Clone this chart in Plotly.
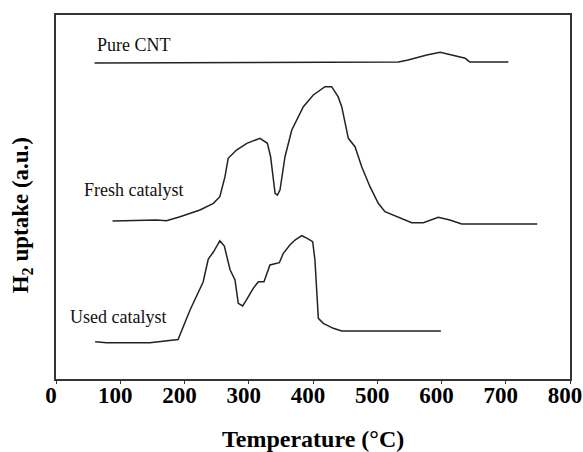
import plotly.graph_objects as go

# Temperature (°C) and H2 uptake (a.u., arbitrary offsets)
pure_x = [60, 484, 533, 548, 577, 598, 618, 637, 644, 704]
pure_y = [316, 316.5, 317, 319, 324, 326.7, 324, 320.7, 317, 317]

fresh_x = [88, 131, 156, 172, 193, 224, 245, 255, 263, 268, 281, 297, 317.5, 329, 334,
           341, 344.5, 348.6, 356.4, 367, 385, 400.5, 418.7, 429, 439, 444.7, 449.8, 455,
           465.4, 475.8, 488.7, 501.6, 512, 530, 553.6, 571.7, 595, 613, 631.4, 749]
fresh_y = [158, 159, 159, 158.3, 162.3, 169, 175.7, 182.3, 202.3, 220.7, 229, 235.7, 240.7,
           235.7, 222.3, 185.7, 184, 189, 222.3, 249, 272.3, 284, 292.3, 292.3, 282.3, 272.3,
           255.7, 240.7, 232.3, 212.3, 192.3, 175.7, 167.3, 162.3, 156.3, 156.3, 161.7, 159,
           155, 155]

used_x = [61, 79, 146, 172, 190, 208.6, 216, 229, 237, 245, 255, 262, 270.8, 278.6, 283.7,
          290.5, 295.7, 307, 315, 323.7, 333, 347.6, 353.8, 364, 372, 382.4, 391, 399.5, 403,
          406.7, 408.3, 416, 431.6, 444.7, 599]
used_y = [37.3, 36.3, 36.3, 38.3, 39.5, 69, 79, 97, 120, 127, 138.3, 133, 109.5, 99, 75.7,
          73, 78.3, 90.7, 97.3, 97.3, 114, 116.3, 125.7, 134, 139, 143.3, 140.7, 137.3, 119,
          85.7, 60.7, 55.7, 50.7, 48, 48]

series_names = ["Pure CNT", "Fresh catalyst", "Used catalyst"]
label_x = [61, 40, 19]
label_y = [334, 189, 62]

x_ticks = [0, 100, 200, 300, 400, 500, 600, 700, 800]

fig = go.Figure()
for xs, ys, nm in [(pure_x, pure_y, series_names[0]),
                   (fresh_x, fresh_y, series_names[1]),
                   (used_x, used_y, series_names[2])]:
    fig.add_trace(go.Scatter(x=xs, y=ys, mode="lines", name=nm,
                             line=dict(color="#222222", width=1.5)))

for nm, lx, ly in zip(series_names, label_x, label_y):
    fig.add_annotation(x=lx, y=ly, text=nm, showarrow=False, xanchor="left",
                       yanchor="middle",
                       font=dict(family="Liberation Serif", size=18, color="#111111"))

fig.add_annotation(xref="paper", yref="paper", x=0.5, y=-0.165,
                   text="<b>Temperature (°C)</b>", showarrow=False,
                   xanchor="center", yanchor="middle",
                   font=dict(family="Liberation Serif", size=24, color="black"))
fig.add_annotation(xref="paper", yref="paper", x=-0.066, y=0.45,
                   text="<b>H<sub>2</sub> uptake (a.u.)</b>", showarrow=False,
                   textangle=-90, xanchor="center", yanchor="middle",
                   font=dict(family="Liberation Serif", size=23, color="black"))

fig.update_layout(
    width=583, height=452,
    margin=dict(l=56, r=13, t=15, b=73),
    paper_bgcolor="white", plot_bgcolor="white",
    showlegend=False,
    xaxis=dict(range=[0, 800], tickvals=x_ticks, ticktext=["<b>%d</b>" % t for t in x_ticks],
               showgrid=False, zeroline=False, showline=True, mirror=True,
               linecolor="#333333", linewidth=2, ticks="outside", ticklen=3,
               tickcolor="#333333", ticklabeloverflow="allow", automargin=False,
               ticklabelshift=-5, ticklabelstandoff=-9,
               tickfont=dict(family="Liberation Serif", size=23, color="black")),
    yaxis=dict(range=[0, 364], showticklabels=False, showgrid=False, zeroline=False,
               showline=True, mirror=True, linecolor="#333333", linewidth=2, ticks="",
               automargin=False),
)

# remove the browser's default 8px body margin so the figure fills the window exactly
fig.write_html("out.html", config={"displayModeBar": False},
               post_script="document.body.style.margin='0';document.body.style.overflow='hidden';")
